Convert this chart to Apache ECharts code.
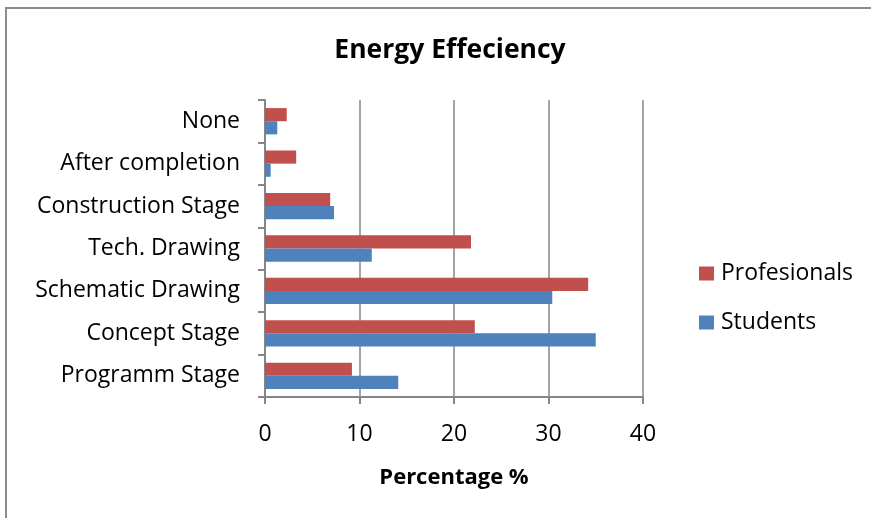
<!DOCTYPE html>
<html>
<head>
<meta charset="utf-8">
<script src="https://cdn.jsdelivr.net/npm/echarts@6/dist/echarts.min.js"></script>
<style>
  html, body { margin: 0; padding: 0; background: #fff; }
  #chart { width: 871px; height: 518px; }
</style>
</head>
<body>
<div id="chart"></div>
<script>
// Stages, listed bottom to top as they appear on the category axis
const categories = ['Programm Stage', 'Concept Stage', 'Schematic Drawing', 'Tech. Drawing', 'Construction Stage', 'After completion', 'None'];
const students = [14.1, 35.0, 30.4, 11.3, 7.3, 0.6, 1.3];
const professionals = [9.2, 22.2, 34.2, 21.8, 6.9, 3.3, 2.3];
const xTicks = [0, 10, 20, 30, 40];

const FONT = '"Open Sans", sans-serif';
const AXIS_GRAY = '#868686';

const chart = echarts.init(document.getElementById('chart'), null, { renderer: 'canvas' });

chart.setOption({
  animation: false,
  backgroundColor: '#fff',
  graphic: [{
    type: 'rect',
    shape: { x: 6, y: 8, width: 880, height: 530 },
    style: { fill: 'none', stroke: '#8c8c8c', lineWidth: 2 },
    silent: true
  }],
  title: {
    text: 'Energy Effeciency',
    left: 445,
    top: 32,
    textAlign: 'center',
    textStyle: { fontFamily: FONT, fontSize: 26.5, fontWeight: 'bold', color: '#000' }
  },
  legend: {
    orient: 'vertical',
    left: 699,
    top: 262,
    padding: 0,
    itemGap: 26,
    itemWidth: 15,
    itemHeight: 14,
    icon: 'rect',
    data: ['Profesionals', 'Students'],
    textStyle: { fontFamily: FONT, fontSize: 23, color: '#000', padding: [0, 0, 0, 2] }
  },
  grid: { left: 265, top: 100, width: 378, height: 297, containLabel: false },
  xAxis: {
    type: 'value',
    min: xTicks[0],
    max: xTicks[xTicks.length - 1],
    interval: 10,
    name: 'Percentage %',
    nameLocation: 'middle',
    nameGap: 70,
    nameTextStyle: { fontFamily: FONT, fontSize: 22, fontWeight: 'bold', color: '#000' },
    axisLine: { show: true, lineStyle: { color: AXIS_GRAY, width: 2 } },
    axisTick: { show: true, length: 7, lineStyle: { color: AXIS_GRAY, width: 2 } },
    axisLabel: { fontFamily: FONT, fontSize: 23, color: '#000', margin: 26 },
    splitLine: { show: true, lineStyle: { color: AXIS_GRAY, width: 1.5 } }
  },
  yAxis: {
    type: 'category',
    data: categories,
    axisLine: { show: true, lineStyle: { color: AXIS_GRAY, width: 2 } },
    axisTick: { show: true, length: 7, lineStyle: { color: AXIS_GRAY, width: 2 } },
    axisLabel: { fontFamily: FONT, fontSize: 23, color: '#000', margin: 25 }
  },
  series: [
    {
      name: 'Profesionals',
      type: 'bar',
      data: professionals,
      barGap: '0%',
      barCategoryGap: '38%',
      itemStyle: { color: '#c0504d' }
    },
    {
      name: 'Students',
      type: 'bar',
      data: students,
      barGap: '0%',
      barCategoryGap: '38%',
      itemStyle: { color: '#4f81bd' }
    }
  ]
});
</script>
</body>
</html>
